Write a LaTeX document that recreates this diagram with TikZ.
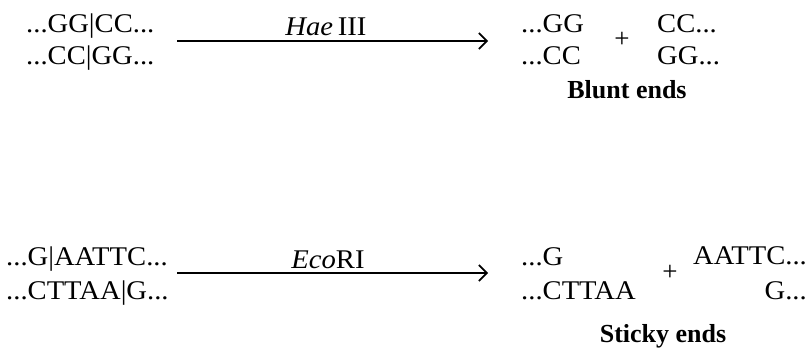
\documentclass[tikz,border=0pt]{standalone}
\usepackage{fontspec}
\setmainfont{Liberation Serif}
\usetikzlibrary{arrows.meta}
\newcommand\dnstr[1]{\scalebox{1.06}[1]{#1}}
\begin{document}
\begin{tikzpicture}[x=1pt,y=-1pt,
  dna/.style={inner sep=0pt, font=\fontsize{27}{27}\selectfont},
  lbl/.style={inner sep=0pt, font=\fontsize{26}{26}\selectfont\bfseries, anchor=base},
  enz/.style={inner sep=0pt, font=\fontsize{27}{27}\selectfont, anchor=base},
  cut/.style={line width=1.8pt, -{Straight Barb[length=8pt,width=16pt,line width=1.6pt]}},
  plus/.style={inner sep=0pt, font=\fontsize{27}{27}\selectfont}]
\useasboundingbox (0,0) rectangle (812,351);

% HaeIII
\node[dna, anchor=base west] (t1) at (26,32) {\dnstr{...GG|CC...}};
\node[dna, anchor=base west] (t2) at (26,64) {\dnstr{...CC|GG...}};
\coordinate (ha) at (177,41);
\coordinate (hb) at (488,41);
\draw[cut] (ha) -- (hb);
\node[enz] (hae) at (326,35) {\dnstr{\textit{Hae}\,III}};
\node[dna, anchor=base west] (r1) at (521,32) {\dnstr{...GG}};
\node[dna, anchor=base west] (r2) at (521,64) {\dnstr{...CC}};
\node[plus] (p1) at (622,40) {+};
\node[dna, anchor=base west] (r3) at (657,32) {\dnstr{CC...}};
\node[dna, anchor=base west] (r4) at (657,64) {\dnstr{GG...}};
\node[lbl] (blunt) at (627,98) {Blunt ends};

% EcoRI
\node[dna, anchor=base west] (b1) at (6,265) {\dnstr{...G|AATTC...}};
\node[dna, anchor=base west] (b2) at (6,299) {\dnstr{...CTTAA|G...}};
\coordinate (ea) at (177,273);
\coordinate (eb) at (488,273);
\draw[cut] (ea) -- (eb);
\node[enz] (eco) at (328,268) {\dnstr{\textit{Eco}RI}};
\node[dna, anchor=base west] (s1) at (521,265) {\dnstr{...G}};
\node[dna, anchor=base west] (s2) at (521,299) {\dnstr{...CTTAA}};
\node[plus] (p2) at (670,273) {+};
\node[dna, anchor=base east] (s3) at (807,264) {\dnstr{AATTC...}};
\node[dna, anchor=base east] (s4) at (807,299) {\dnstr{G...}};
\node[lbl] (sticky) at (663,342) {Sticky ends};
\end{tikzpicture}
\end{document}
